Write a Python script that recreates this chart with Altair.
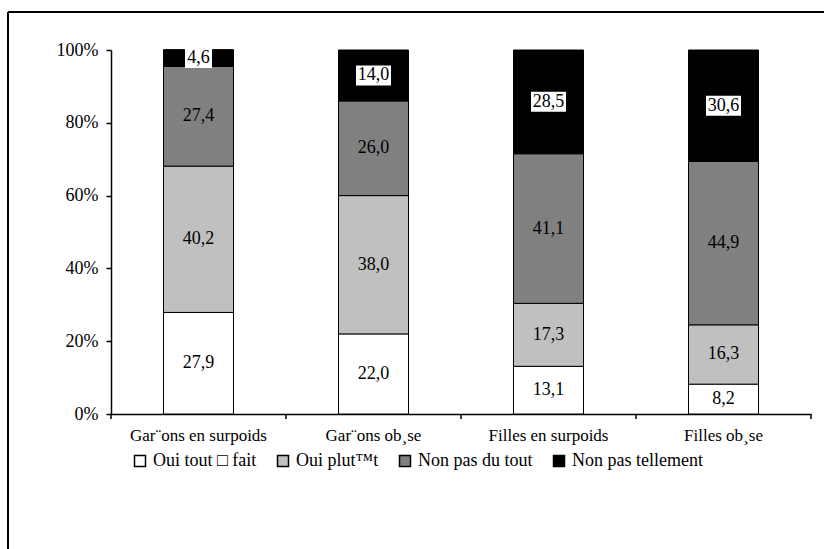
import altair as alt
import pandas as pd

# Categories, series and values (percent of each group)
groups = ["Gar¨ons en surpoids", "Gar¨ons ob¸se", "Filles en surpoids", "Filles ob¸se"]
series = ["Oui tout \u25a1 fait", "Oui plut™t", "Non pas du tout", "Non pas tellement"]
colors = ["#FFFFFF", "#C0C0C0", "#808080", "#000000"]

oui_tout_a_fait = [27.9, 22.0, 13.1, 8.2]
oui_plutot = [40.2, 38.0, 17.3, 16.3]
non_pas_du_tout = [27.4, 26.0, 41.1, 44.9]
non_pas_tellement = [4.6, 14.0, 28.5, 30.6]

y_ticks = [0, 20, 40, 60, 80, 100]

rows = []
for k, vals in enumerate([oui_tout_a_fait, oui_plutot, non_pas_du_tout, non_pas_tellement]):
    for g, v in zip(groups, vals):
        rows.append({"cat": g, "serie": series[k], "k": k, "value": v})
df = pd.DataFrame(rows)

FONT = "'Liberation Serif', 'Times New Roman', serif"
FS = 18

base = (
    alt.Chart(df)
    .transform_stack(
        stack="value",
        groupby=["cat"],
        as_=["y0", "y1"],
        sort=[alt.SortField("k", order="ascending")],
    )
    .transform_calculate(
        mid="(datum.y0 + datum.y1) / 2",
        lab="replace(format(datum.value, '.1f'), '.', ',')",
    )
)

x_enc = alt.X(
    "cat:N",
    sort=groups,
    title=None,
    scale=alt.Scale(domain=groups, paddingInner=0, paddingOuter=0),
    axis=alt.Axis(
        labelAngle=0,
        ticks=False,
        labelPadding=13,
        labelFont=FONT,
        labelFontSize=17,
        labelColor="black",
        domainColor="black",
        domainWidth=1.5,
    ),
)

y_scale = alt.Scale(domain=[0, 100], nice=False)

bars = base.mark_bar(
    width=alt.RelativeBandSize(0.4), stroke="black", strokeWidth=1
).encode(
    x=x_enc,
    y=alt.Y(
        "y0:Q",
        title=None,
        scale=y_scale,
        axis=alt.Axis(
            values=y_ticks,
            labelExpr="datum.value + '%'",
            grid=False,
            tickSize=5,
            tickColor="black",
            tickWidth=1.5,
            labelPadding=8,
            labelFont=FONT,
            labelFontSize=FS,
            labelColor="black",
            domainColor="black",
            domainWidth=1.5,
        ),
    ),
    y2="y1:Q",
    color=alt.Color(
        "serie:N",
        scale=alt.Scale(domain=series, range=colors),
        legend=alt.Legend(
            title=None,
            orient="none",
            legendX=20,
            legendY=402,
            direction="horizontal",
            symbolType="square",
            symbolSize=121,
            symbolStrokeColor="black",
            symbolStrokeWidth=1.5,
            labelFont=FONT,
            labelFontSize=FS,
            labelColor="black",
            labelOffset=4,
            columnPadding=17,
        ),
    ),
)

x_plain = alt.X("cat:N", sort=groups, title=None)
y_mid = alt.Y("mid:Q", title=None, scale=y_scale)

# White boxes behind the labels of the black segments
box_short = base.transform_filter("datum.k == 3 && length(datum.lab) == 3").mark_rect(
    width=27, height=20, color="white"
).encode(x=x_plain, y=y_mid)
box_long = base.transform_filter("datum.k == 3 && length(datum.lab) > 3").mark_rect(
    width=35, height=20, color="white"
).encode(x=x_plain, y=y_mid)

labels = base.mark_text(font=FONT, fontSize=FS, color="black").encode(
    x=x_plain, y=y_mid, text="lab:N"
)

# Tick marks on the category axis at band boundaries
ticks = base.transform_filter("datum.k == 0").mark_rule(color="black", strokeWidth=1.5).encode(
    x=alt.X("cat:N", sort=groups, bandPosition=0, title=None),
    y=alt.value(364),
    y2=alt.value(369),
)
frame_df = pd.DataFrame({"p": [0]})
end_tick = alt.Chart(frame_df).mark_rule(color="black", strokeWidth=1.5).encode(
    x=alt.value(700), y=alt.value(364), y2=alt.value(369)
)

# Outer frame (left and top edges)
frame_left = alt.Chart(frame_df).mark_rule(color="black", strokeWidth=2).encode(
    x=alt.value(-103), y=alt.value(-38), y2=alt.value(499)
)
frame_top = alt.Chart(frame_df).mark_rule(color="black", strokeWidth=2).encode(
    x=alt.value(-103), x2=alt.value(713), y=alt.value(-38)
)

chart = (
    alt.layer(bars, box_short, box_long, labels, ticks, end_tick, frame_left, frame_top)
    .properties(
        width=700,
        height=364,
        autosize="none",
        padding={"left": 111, "top": 50, "right": 13, "bottom": 135},
        background="white",
    )
    .configure_view(stroke=None)
)

chart.save("out.html", embed_options={"renderer": "svg", "actions": False})
